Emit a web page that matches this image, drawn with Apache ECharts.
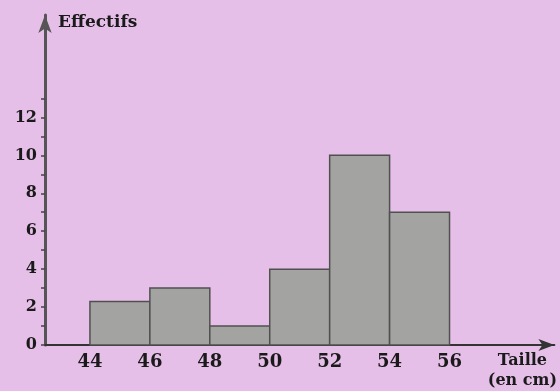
<!DOCTYPE html>
<html>
<head>
<meta charset="utf-8">
<script src="https://cdn.jsdelivr.net/npm/echarts@6/dist/echarts.min.js"></script>
<style>
  html, body { margin: 0; padding: 0; background: #e6bfe9; }
  #chart { width: 560px; height: 391px; }
</style>
</head>
<body>
<div id="chart"></div>
<script>
// histogram classes (cm) and counts
const classStart = [44, 46, 48, 50, 52, 54]
const classEnd   = [46, 48, 50, 52, 54, 56]
const effectifs  = [2.3, 3, 1, 4, 10, 7]
const xLabels = [44, 46, 48, 50, 52, 54, 56]
const yLabels = [0, 2, 4, 6, 8, 10, 12]
const yTicks  = [0, 1, 2, 3, 4, 5, 6, 7, 8, 9, 10, 11, 12, 13]

const font = '"DejaVu Serif", serif'
const ink = '#1a1a1a'
const chart = echarts.init(document.getElementById('chart'))

chart.setOption({
  backgroundColor: '#e6bfe9',
  animation: false,
  grid: { left: 45, right: 5, top: 15, bottom: 46 },
  xAxis: {
    type: 'value', min: 42.5, max: 59.5,
    name: 'Taille\n(en cm)', nameLocation: 'end', nameGap: -32,
    nameTextStyle: { color: ink, fontFamily: font, fontWeight: 'bold', fontSize: 16,
      align: 'center', verticalAlign: 'top', padding: [6, 0, 0, 0], lineHeight: 20 },
    axisLine: { lineStyle: { color: '#333', width: 2 }, symbol: ['none', 'arrow'], symbolSize: [9, 16] },
    axisTick: { show: false },
    splitLine: { show: false },
    axisLabel: { customValues: xLabels, color: ink, fontFamily: font, fontWeight: 'bold', fontSize: 18, margin: 8 }
  },
  yAxis: {
    type: 'value', min: 0, max: 17.4,
    name: 'Effectifs', nameLocation: 'end', nameGap: -16,
    nameTextStyle: { color: ink, fontFamily: font, fontWeight: 'bold', fontSize: 17,
      align: 'left', padding: [0, 0, 0, 13] },
    axisLine: { lineStyle: { color: '#555', width: 3 }, symbol: ['none', 'arrow'], symbolSize: [10, 18] },
    axisTick: { customValues: yTicks, length: 4, lineStyle: { color: '#444', width: 1.5 } },
    splitLine: { show: false },
    axisLabel: { customValues: yLabels, color: ink, fontFamily: font, fontWeight: 'bold', fontSize: 16, margin: 8 }
  },
  series: [{
    type: 'custom',
    data: classStart.map((s, i) => [s, classEnd[i], effectifs[i]]),
    renderItem: (params, api) => {
      const p0 = api.coord([api.value(0), api.value(2)])
      const p1 = api.coord([api.value(1), 0])
      return {
        type: 'rect',
        shape: { x: p0[0], y: p0[1], width: p1[0] - p0[0], height: p1[1] - p0[1] },
        style: { fill: '#a3a4a2', stroke: '#505050', lineWidth: 1.5 }
      }
    }
  }]
})
</script>
</body>
</html>
